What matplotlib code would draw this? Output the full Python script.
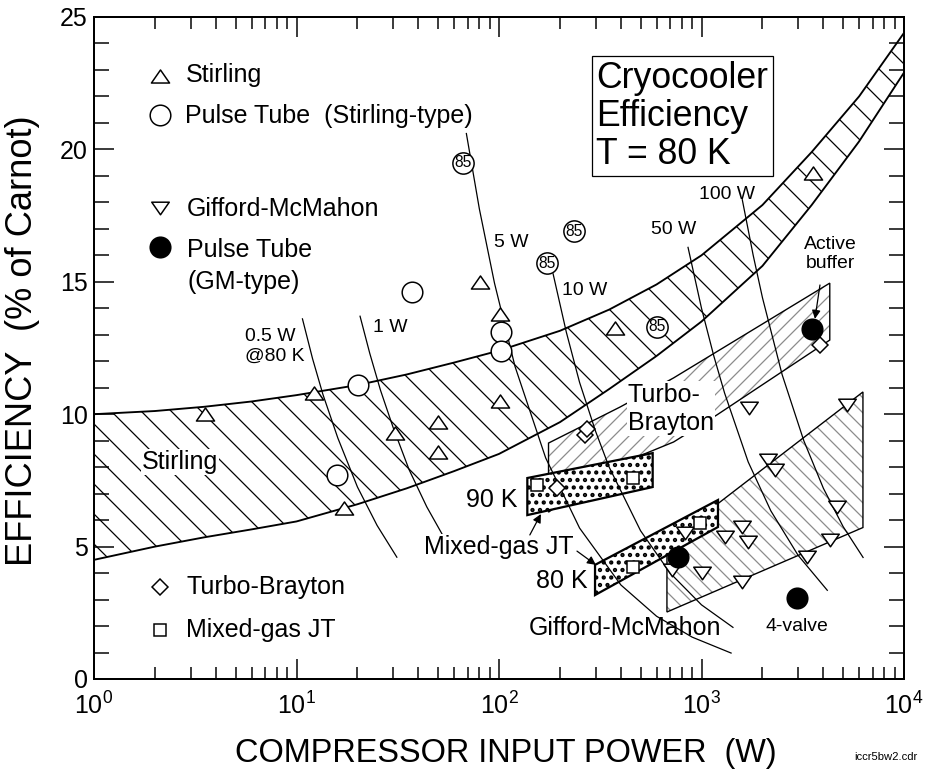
import matplotlib.pyplot as plt
from matplotlib.patches import Polygon
from matplotlib.path import Path
from matplotlib.ticker import MultipleLocator, LogLocator, NullFormatter

plt.rcParams['font.family'] = ['Liberation Sans', 'DejaVu Sans']
plt.rcParams['mathtext.fontset'] = 'custom'
plt.rcParams['mathtext.rm'] = 'Liberation Sans'
plt.rcParams['mathtext.it'] = 'Liberation Sans:italic'
plt.rcParams['hatch.linewidth'] = 1.0

#--- data
# Stirling band (upper / lower edge)
band_x = [1, 2, 3.5, 6, 10, 20, 35, 60, 100, 200, 350, 600, 1000, 2000, 3500, 6000, 10000]
band_upper = [10.0, 10.12, 10.28, 10.48, 10.72, 11.1, 11.5, 11.95, 12.4, 13.15, 13.95, 14.9, 16.0, 17.9, 19.9, 22.0, 24.4]
band_lower = [4.5, 5.0, 5.35, 5.65, 5.95, 6.6, 7.2, 7.85, 8.5, 9.7, 10.95, 12.2, 13.5, 15.6, 17.9, 20.3, 22.9]

# measured coolers
stirling_x = [3.55, 12.2, 17.2, 30.6, 50, 50, 80.6, 101, 101, 375, 3550]
stirling_y = [10.0, 10.8, 6.45, 9.3, 9.7, 8.57, 15.0, 13.8, 10.5, 13.25, 19.1]
pt_stirling_x = [15.9, 20.1, 37.2, 102, 102]
pt_stirling_y = [7.7, 11.1, 14.6, 13.1, 12.4]
gm_x = [718, 830, 1000, 1310, 1590, 1590, 1690, 1720, 2140, 2310, 3330, 4300, 4670, 5250]
gm_y = [4.12, 5.5, 4.0, 5.36, 5.74, 3.66, 5.17, 10.23, 8.27, 7.9, 4.6, 5.25, 6.5, 10.35]
pt_gm_x = [766, 2960, 3500]
pt_gm_y = [4.6, 3.06, 13.2]
turbo_x = [193, 266, 273, 3830]
turbo_y = [7.2, 9.2, 9.45, 12.6]
mixed_x = [154, 459, 459, 982]
mixed_y = [7.33, 7.6, 4.23, 5.9]
c85_x = [66.5, 172, 234, 600]
c85_y = [19.5, 15.7, 16.9, 13.3]

# regions
turbo_reg_x = [175.6, 396, 728, 4300, 4300, 1190, 728, 354, 175.6]
turbo_reg_y = [8.91, 10.27, 11.37, 14.95, 12.8, 9.97, 8.95, 7.97, 6.3]
gm_reg_x = [675, 6270, 6270, 675]
gm_reg_y = [5.14, 10.84, 5.72, 2.53]
jt90_x = [138, 574, 574, 138]
jt90_y = [7.59, 8.53, 7.25, 6.19]
jt80_x = [298, 1206, 1206, 298]
jt80_y = [4.31, 6.76, 5.74, 3.17]

# constant refrigeration lines
w05_x = [10.7, 12, 13.5, 16, 20, 25, 31.3]
w05_y = [13.6, 12.1, 10.75, 9.1, 7.25, 5.8, 4.6]
w1_x = [20.6, 23, 26, 30, 36, 44, 53]
w1_y = [13.7, 12.3, 10.9, 9.5, 7.9, 6.5, 5.4]
w5_x = [69, 80, 95, 120, 170, 250, 400, 600, 900, 1400]
w5_y = [20.6, 17.75, 14.95, 11.8, 8.35, 5.7, 3.55, 2.37, 1.58, 0.98]
w10_x = [185, 215, 250, 300, 350, 500, 700, 1000, 1430]
w10_y = [15.3, 13.1, 11.2, 9.35, 8.0, 5.6, 4.0, 2.8, 1.95]
w50_x = [858, 1000, 1150, 1300, 1700, 2200, 3000, 4180]
w50_y = [16.3, 14.0, 12.2, 10.8, 8.2, 6.35, 4.67, 3.35]
w100_x = [1590, 1800, 2000, 2500, 3200, 4000, 5000, 6280]
w100_y = [18.1, 16.0, 14.4, 11.5, 9.0, 7.2, 5.76, 4.59]

#--- figure
fig = plt.figure(figsize=(10.4, 772 / 90), dpi=90)
ax = fig.add_axes([94 / 936, 1 - 679 / 772, 810 / 936, 662 / 772])
ax.set_xscale('log')
ax.set_xlim(1, 1e4)
ax.set_ylim(0, 25)

# Stirling band
ax.fill_between(band_x, band_lower, band_upper, facecolor='none', edgecolor='black',
                hatch='\\', linewidth=0, zorder=1)
ax.plot(band_x, band_upper, color='black', lw=1.5, zorder=2)
ax.plot(band_x, band_lower, color='black', lw=1.5, zorder=2)

# Turbo-Brayton and GM regions (light hatch)
for rx, ry, h in [(turbo_reg_x, turbo_reg_y, '//'), (gm_reg_x, gm_reg_y, '\\\\')]:
    pts = list(zip(rx, ry))
    ax.add_patch(Polygon(pts, closed=True, facecolor='white', edgecolor='0.55',
                         hatch=h, linewidth=0, zorder=2))
    ax.add_patch(Polygon(pts, closed=True, fill=False, edgecolor='black',
                         linewidth=1.1, zorder=2.1))

# Mixed-gas JT dotted boxes
for rx, ry in [(jt90_x, jt90_y), (jt80_x, jt80_y)]:
    pts = list(zip(rx, ry))
    dots = Polygon(pts, closed=True, facecolor='white', edgecolor='black',
                   hatch='..', linewidth=0, zorder=3)
    if hasattr(dots, 'set_hatch_linewidth'):
        dots.set_hatch_linewidth(2.2)
    ax.add_patch(dots)
    ax.add_patch(Polygon(pts, closed=True, fill=False, edgecolor='black',
                         linewidth=1.8, zorder=3.1))

# constant cooling power lines
for lx, ly in [(w05_x, w05_y), (w1_x, w1_y), (w5_x, w5_y),
               (w10_x, w10_y), (w50_x, w50_y), (w100_x, w100_y)]:
    ax.plot(lx, ly, color='black', lw=1.0, zorder=4)

# markers (flattened triangles)
tri_up = Path([(-1, -0.72), (1, -0.72), (0, 0.72), (-1, -0.72)], closed=True)
tri_dn = Path([(-1, 0.72), (1, 0.72), (0, -0.72), (-1, 0.72)], closed=True)
mk = dict(linestyle='none', markeredgecolor='black', markeredgewidth=1.2, zorder=6)
ax.plot(stirling_x, stirling_y, marker=tri_up, ms=14.5, mfc='white', **mk)
ax.plot(pt_stirling_x, pt_stirling_y, marker='o', ms=16.5, mfc='white', **mk)
ax.plot(gm_x, gm_y, marker=tri_dn, ms=14, mfc='white', **mk)
ax.plot(pt_gm_x, pt_gm_y, marker='o', ms=16.5, mfc='black', **mk)
ax.plot(turbo_x, turbo_y, marker='D', ms=9, mfc='white', **mk)
ax.plot(mixed_x, mixed_y, marker='s', ms=9.5, mfc='white', **mk)
ax.plot(c85_x, c85_y, marker='o', ms=17, mfc='white', **mk)
for cx, cy in zip(c85_x, c85_y):
    ax.text(cx, cy, '85', fontsize=12.5, ha='center', va='center', zorder=7)

# symbol key
key_x = 2.13
ax.plot(key_x, 22.77, marker=tri_up, ms=14.5, mfc='white', **mk)
ax.plot(key_x, 21.3, marker='o', ms=16.5, mfc='white', **mk)
ax.plot(key_x, 17.79, marker=tri_dn, ms=14, mfc='white', **mk)
ax.plot(key_x, 16.31, marker='o', ms=16.5, mfc='black', **mk)
ax.plot(key_x, 3.47, marker='D', ms=9, mfc='white', **mk)
ax.plot(key_x, 1.85, marker='s', ms=9.5, mfc='white', **mk)
key_fs = 20
ax.text(2.85, 22.8, 'Stirling', fontsize=key_fs, va='center')
ax.text(2.80, 21.25, 'Pulse Tube  (Stirling-type)', fontsize=key_fs, va='center')
ax.text(2.88, 17.75, 'Gifford-McMahon', fontsize=key_fs, va='center')
ax.text(2.88, 16.2, 'Pulse Tube', fontsize=key_fs, va='center')
ax.text(2.88, 15.0, '(GM-type)', fontsize=key_fs, va='center')
ax.text(2.85, 3.47, 'Turbo-Brayton', fontsize=key_fs, va='center')
ax.text(2.85, 1.85, 'Mixed-gas JT', fontsize=key_fs, va='center')

# title box
ax.text(303, 21.25, 'Cryocooler\nEfficiency\nT = 80 K', fontsize=28.5, ha='left', va='center',
        linespacing=1.12, zorder=8,
        bbox=dict(boxstyle='square,pad=0.12', facecolor='white', edgecolor='black', linewidth=1))

# region labels
white = dict(facecolor='white', edgecolor='none', pad=1)
ax.text(2.66, 8.19, 'Stirling', fontsize=20, ha='center', va='center', bbox=white, zorder=5)
ax.text(433, 10.21, 'Turbo-\nBrayton', fontsize=20, ha='left', va='center', bbox=white, zorder=5)
ax.text(92.3, 6.76, '90 K', fontsize=20, ha='center', va='center', bbox=white, zorder=5)
ax.text(100, 4.98, 'Mixed-gas JT', fontsize=20, ha='center', va='center', bbox=white, zorder=5)
ax.text(204.8, 3.70, '80 K', fontsize=20, ha='center', va='center', zorder=5)
ax.text(419, 1.93, 'Gifford-McMahon', fontsize=20, ha='center', va='center', zorder=5)
ax.text(4313, 16.05, 'Active\nbuffer', fontsize=15.5, ha='center', va='center', zorder=5)
ax.text(2962, 2.0, '4-valve', fontsize=15.5, ha='center', va='center', zorder=5)

# cooling power labels
wfs = 15.5
ax.text(5.57, 12.56, '0.5 W\n@80 K', fontsize=wfs, ha='left', va='center', zorder=5)
ax.text(28.9, 13.29, '1 W', fontsize=wfs, ha='center', va='center', zorder=5)
ax.text(114.6, 16.47, '5 W', fontsize=wfs, ha='center', va='center', zorder=5)
ax.text(265.9, 14.69, '10 W', fontsize=wfs, ha='center', va='center', zorder=5)
ax.text(731, 16.96, '50 W', fontsize=wfs, ha='center', va='center', zorder=5)
ax.text(1336, 18.28, '100 W', fontsize=wfs, ha='center', va='center', zorder=5)

# arrows
arw = dict(arrowstyle='-|>', color='black', lw=1.0, mutation_scale=14, shrinkA=0, shrinkB=0)
ax.annotate('', xy=(3633, 13.6), xytext=(3846, 14.88), arrowprops=arw, zorder=7)
ax.annotate('', xy=(161, 6.23), xytext=(142, 5.44), arrowprops=arw, zorder=7)
ax.annotate('', xy=(301, 4.31), xytext=(242.7, 4.83), arrowprops=arw, zorder=7)

#--- axes styling
ax.xaxis.set_major_locator(LogLocator(base=10, numticks=10))
ax.xaxis.set_minor_locator(LogLocator(base=10, subs=range(2, 10), numticks=10))
ax.xaxis.set_minor_formatter(NullFormatter())
ax.yaxis.set_major_locator(MultipleLocator(5))
ax.yaxis.set_minor_locator(MultipleLocator(1))
ax.tick_params(which='both', direction='in', top=True, right=True, width=1.2, labelsize=20)
ax.tick_params(which='major', length=16)
ax.tick_params(axis='x', which='major', pad=11)
ax.tick_params(axis='y', which='major', pad=5)
ax.tick_params(axis='x', which='minor', length=9.5)
ax.tick_params(axis='y', which='minor', length=12)
for sp in ax.spines.values():
    sp.set_linewidth(1.6)

ax.set_xlabel('COMPRESSOR INPUT POWER  (W)', fontsize=26)
ax.set_ylabel('EFFICIENCY  (% of Carnot)', fontsize=29)
ax.xaxis.set_label_coords(0.509, -0.089)
ax.yaxis.set_label_coords(-0.067, 0.511)

fig.text(886 / 936, 1 - 757 / 772, 'iccr5bw2.cdr', fontsize=9, ha='center', va='center')

fig.savefig('out.png', dpi=90)
